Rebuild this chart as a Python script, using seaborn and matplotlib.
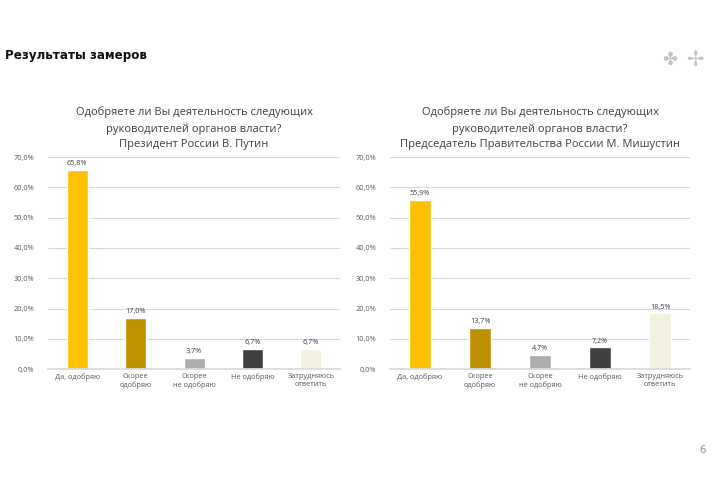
import matplotlib
matplotlib.use("Agg")
import matplotlib.pyplot as plt
import seaborn as sns
import pandas as pd

# Data
categories = ["Да, одобряю", "Скорее\nодобряю", "Скорее\nне одобряю", "Не одобряю", "Затрудняюсь\nответить"]
putin = [65.8, 17.0, 3.7, 6.7, 6.7]
mishustin = [55.9, 13.7, 4.7, 7.2, 18.5]
bar_colors = ["#FFC000", "#BF9000", "#ADADAD", "#404040", "#F2F0DE"]

question = "Одобряете ли Вы деятельность следующих\nруководителей органов власти?"
subtitles = ["Президент России В. Путин", "Председатель Правительства России М. Мишустин"]
yticks = [0, 10, 20, 30, 40, 50, 60, 70]

sns.set_theme(style="white")
plt.rcParams['font.family'] = ['Open Sans', 'DejaVu Sans']

fig = plt.figure(figsize=(7.2, 4.8), dpi=100)
fig.patch.set_facecolor("white")

fig.text(0.007, 0.885, "Результаты замеров", fontsize=9.5, fontweight="bold",
         family=["DejaVu Sans"], stretch="condensed", color="#111111", va="center")
fig.text(0.976, 0.057, "6", fontsize=8, color="#888888", ha="center")
fig.text(0.931, 0.875, "✤", fontsize=13, color="#C4C4C4", ha="center", va="center",
         family=["DejaVu Sans"])
fig.text(0.965, 0.875, "✢", fontsize=15, color="#C4C4C4", ha="center", va="center",
         family=["DejaVu Sans"])

positions = [[0.0667, 0.231, 0.4056, 0.4417], [0.5417, 0.231, 0.4167, 0.4417]]

def fmt(v):
    return f"{v:.1f}".replace(".", ",")

for pos, vals, sub in zip(positions, [putin, mishustin], subtitles):
    ax = fig.add_axes(pos)
    df = pd.DataFrame({"cat": categories, "val": vals})
    sns.barplot(data=df, x="cat", y="val", hue="cat", palette=bar_colors,
                legend=False, width=0.36, ax=ax, saturation=1)
    ax.set_ylim(0, 70)
    ax.set_xlim(-0.5, 4.5)
    ax.set_yticks(yticks)
    ax.set_yticklabels([fmt(t) + "%" for t in yticks], fontsize=5.3, color="#595959")
    ax.tick_params(axis="x", labelsize=5.3, colors="#595959", length=0, pad=3)
    ax.tick_params(axis="y", length=0, pad=10)
    ax.yaxis.grid(True, color="#D9D9D9", linewidth=0.8)
    ax.set_axisbelow(True)
    for s in ["top", "right", "left"]:
        ax.spines[s].set_visible(False)
    ax.spines["bottom"].set_color("#D9D9D9")
    ax.set_xlabel("")
    ax.set_ylabel("")
    for i, v in enumerate(vals):
        ax.text(i, v + 0.8, fmt(v) + "%", ha="center", va="bottom", fontsize=5.2, color="#404040")
    ax.set_title(question + "\n" + sub, fontsize=8, color="#404040", pad=7, linespacing=1.6)

fig.savefig("out.png", dpi=100, facecolor="white")
